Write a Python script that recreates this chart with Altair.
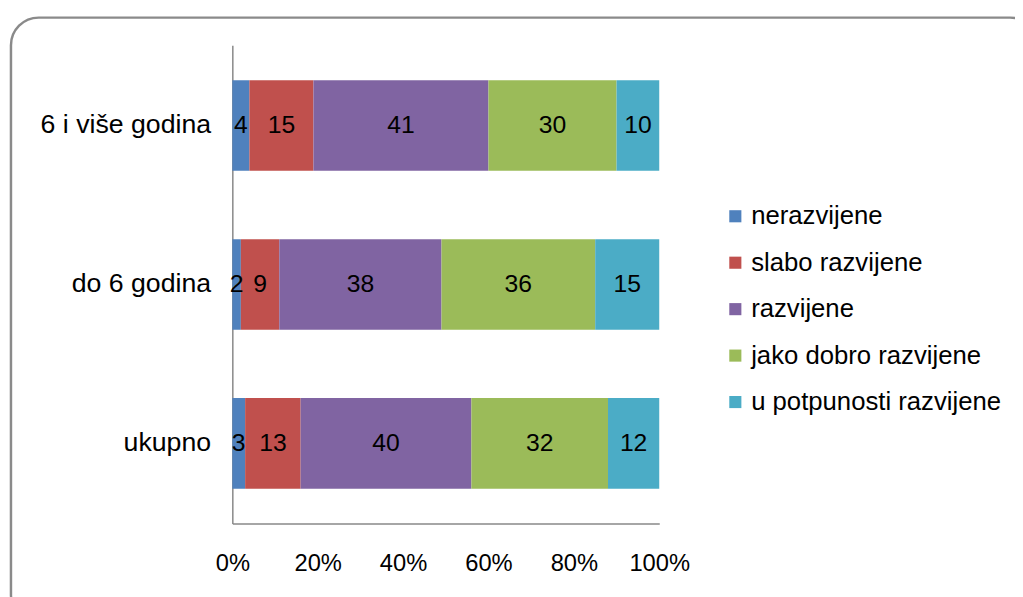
import altair as alt
import pandas as pd

groups = ["6 i više godina", "do 6 godina", "ukupno"]
levels = ["nerazvijene", "slabo razvijene", "razvijene", "jako dobro razvijene", "u potpunosti razvijene"]
colors = ["#4F81BD", "#C0504D", "#8064A2", "#9BBB59", "#4BACC6"]
values = {
    "6 i više godina": [4, 15, 41, 30, 10],
    "do 6 godina": [2, 9, 38, 36, 15],
    "ukupno": [3, 13, 40, 32, 12],
}

rows = []
for g in groups:
    for i, (lv, v) in enumerate(zip(levels, values[g])):
        rows.append({"grupa": g, "razina": lv, "ord": i, "vrijednost": v})
df = pd.DataFrame(rows)

FONT = "Liberation Sans"

base = alt.Chart(df).transform_stack(
    stack="vrijednost", groupby=["grupa"], as_=["x0", "x1"], sort=[alt.SortField("ord")]
).transform_calculate(mid="(datum.x0 + datum.x1) / 2")

yenc = alt.Y("grupa:N", sort=groups, title=None,
             scale=alt.Scale(paddingInner=0.43, paddingOuter=0.22),
             axis=alt.Axis(labelFontSize=27, labelFont=FONT, labelColor="#000", ticks=False,
                           labelPadding=22, labelLimit=400, domainColor="#888", domainWidth=1.5))

bars = base.mark_bar().encode(
    x=alt.X("x0:Q", scale=alt.Scale(domain=[0, 100]), title=None,
            axis=alt.Axis(values=[0, 20, 40, 60, 80, 100], labelExpr="datum.value + '%'",
                          labelFontSize=24, labelFont=FONT, labelColor="#000", ticks=False,
                          labelFlush=False, labelOverlap=False,
                          labelPadding=28, grid=False, domainColor="#888", domainWidth=1.5)),
    x2="x1:Q",
    y=yenc,
    color=alt.Color("razina:N", sort=levels, scale=alt.Scale(domain=levels, range=colors),
                    legend=alt.Legend(title=None, orient="none", legendX=496, legendY=160,
                                      symbolType="square", symbolSize=150, symbolStrokeWidth=0,
                                      labelFontSize=26, labelFont=FONT, labelColor="#000",
                                      labelLimit=400, rowPadding=21, labelOffset=3, symbolOffset=0)),
)

labels = base.mark_text(fontSize=25, font=FONT, color="#000").encode(
    x=alt.X("mid:Q"),
    y=alt.Y("grupa:N", sort=groups),
    text="vrijednost:Q",
)

frame = alt.Chart(alt.Data(values=[{}])).mark_rect(
    fill="transparent", stroke="#8a8a8a", strokeWidth=2.5, cornerRadius=28
).encode(x=alt.value(-224), x2=alt.value(815), y=alt.value(-28), y2=alt.value(585))

chart = alt.layer(frame, bars, labels).properties(
    width=432, height=484,
    background="white",
    autosize=alt.AutoSizeParams(type="none"),
    padding={"left": 227, "top": 34, "right": 360, "bottom": 110},
).configure_view(stroke=None)

chart.save("out.html", embed_options={"renderer": "svg", "actions": False})
